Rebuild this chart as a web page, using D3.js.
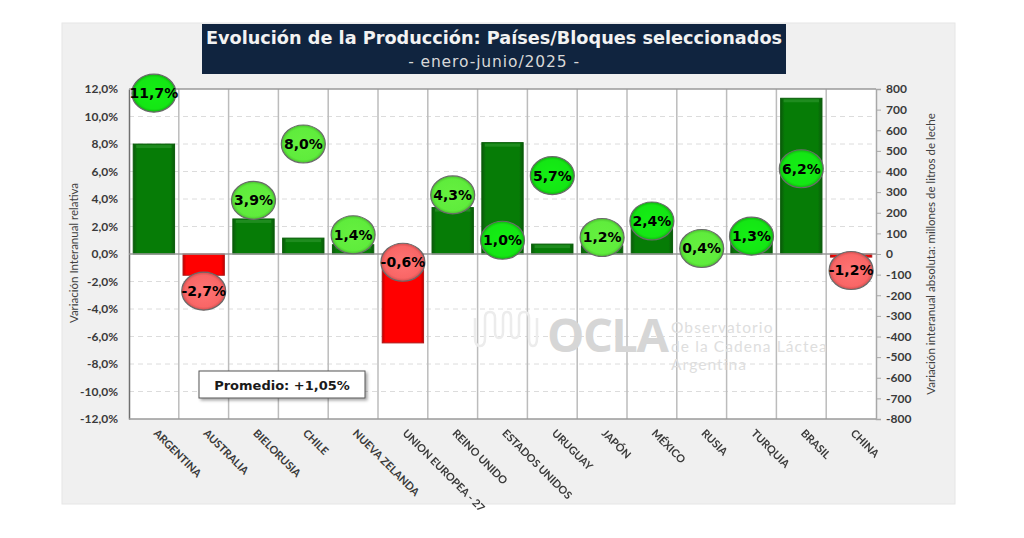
<!DOCTYPE html>
<html>
<head>
<meta charset="utf-8">
<script src="https://cdn.jsdelivr.net/npm/d3@7"></script>
<style>
  html, body { margin: 0; padding: 0; background: #fff; }
  svg { display: block; filter: blur(0.45px); }
  text { font-family: "DejaVu Sans", sans-serif; }
</style>
</head>
<body>
<div id="chart"></div>
<script>
// Datos
const paises = ["ARGENTINA", "AUSTRALIA", "BIELORUSIA", "CHILE", "NUEVA ZELANDA", "UNION EUROPEA - 27", "REINO UNIDO",
    "ESTADOS UNIDOS", "URUGUAY", "JAPÓN", "MÉXICO", "RUSIA", "TURQUIA", "BRASIL", "CHINA"];
const variacionAbsoluta = [533, -103, 170, 77, 45, -431, 225, 540, 48, 40, 135, 15, 62, 755, -15];
const variacionRelativa = [11.7, -2.7, 3.9, 8.0, 1.4, -0.6, 4.3, 1.0, 5.7, 1.2, 2.4, 0.4, 1.3, 6.2, -1.2];
const ticksRelativa = [-12, -10, -8, -6, -4, -2, 0, 2, 4, 6, 8, 10, 12];
const ticksAbsoluta = [-800, -700, -600, -500, -400, -300, -200, -100, 0, 100, 200, 300, 400, 500, 600, 700, 800];
// Paises con burbuja verde claro en el original
const burbujaClara = ["BIELORUSIA", "CHILE", "NUEVA ZELANDA", "REINO UNIDO", "JAPÓN", "RUSIA"];

const width = 1024, height = 538;
const margin = {top: 89, bottom: 119, left: 129, right: 148};
const innerW = width - margin.left - margin.right;
const innerH = height - margin.top - margin.bottom;

const root = d3.select("#chart").append("svg")
    .attr("width", width)
    .attr("height", height);

const defs = root.append("defs");

// Gradientes de las burbujas y biseles de las barras
function burbuja(id, centro, medio, borde) {
    const g = defs.append("radialGradient").attr("id", id)
        .attr("cx", "50%").attr("cy", "50%").attr("r", "52%");
    g.append("stop").attr("offset", "0%").attr("stop-color", centro);
    g.append("stop").attr("offset", "80%").attr("stop-color", medio);
    g.append("stop").attr("offset", "100%").attr("stop-color", borde);
}
burbuja("bubbleGreen", "#14f014", "#14e614", "#0fa80f");
burbuja("bubbleLight", "#66f040", "#5fec3c", "#46b82c");
burbuja("bubbleRed", "#ff7474", "#f96666", "#c84a4a");

const gradVerde = defs.append("linearGradient").attr("id", "barGreen");
gradVerde.append("stop").attr("offset", "0%").attr("stop-color", "#0b5a0b");
gradVerde.append("stop").attr("offset", "10%").attr("stop-color", "#067c06");
gradVerde.append("stop").attr("offset", "90%").attr("stop-color", "#067c06");
gradVerde.append("stop").attr("offset", "100%").attr("stop-color", "#0b5a0b");

const gradRojo = defs.append("linearGradient").attr("id", "barRed");
gradRojo.append("stop").attr("offset", "0%").attr("stop-color", "#c00000");
gradRojo.append("stop").attr("offset", "8%").attr("stop-color", "#ff0000");
gradRojo.append("stop").attr("offset", "92%").attr("stop-color", "#ff0000");
gradRojo.append("stop").attr("offset", "100%").attr("stop-color", "#c00000");

const sombra = defs.append("filter").attr("id", "shadow")
    .attr("x", "-10%").attr("y", "-20%").attr("width", "125%").attr("height", "150%");
sombra.append("feDropShadow").attr("dx", 2).attr("dy", 2).attr("stdDeviation", 1.5)
    .attr("flood-color", "#000").attr("flood-opacity", 0.35);

// Fondo
root.append("rect").attr("x", 62).attr("y", 23).attr("width", 893).attr("height", 481)
    .attr("fill", "#f0f0f0").attr("stroke", "#e6e6e6");

// Titulo
root.append("rect").attr("x", 202).attr("y", 24).attr("width", 584).attr("height", 50)
    .attr("fill", "#10243f");
root.append("text").attr("x", 494).attr("y", 44)
    .attr("text-anchor", "middle").attr("fill", "#f2f2f2")
    .style("font-size", "17.7px").style("font-weight", 700)
    .text("Evolución de la Producción: Países/Bloques seleccionados");
root.append("text").attr("x", 494).attr("y", 67)
    .attr("text-anchor", "middle").attr("fill", "#d8d8d8")
    .style("font-size", "15.5px").style("letter-spacing", "0.9px")
    .text("- enero-junio/2025 -");

const svg = root.append("g")
    .attr("transform", `translate(${margin.left},${margin.top})`);

// Escalas
const xScale = d3.scaleBand().domain(paises).range([0, innerW]).paddingInner(0.17).paddingOuter(0.085);
const xCat = d3.scaleBand().domain(paises).range([0, innerW]);
const yRel = d3.scaleLinear().domain([-12, 12]).range([innerH, 0]);
const yAbs = d3.scaleLinear().domain([-800, 800]).range([innerH, 0]);

svg.append("rect").attr("width", innerW).attr("height", innerH).attr("fill", "#fff");

// Marca de agua
root.append("path")
    .attr("d", "M475,318 V338 Q475,346 480,346 Q485,346 485,338 V318 Q485,312 490,312 Q495,312 495,318 V332 Q495,338 499,338 Q503,338 503,332 V318 Q503,312 507,312 Q511,312 511,318 V332 Q511,338 515,338 Q519,338 519,332 V318 Q519,312 524,312 Q529,312 529,318 V338 Q529,346 533,346 Q537,346 537,338 V318")
    .attr("stroke", "#ececec").attr("stroke-width", 2.5).attr("fill", "none");
root.append("text").attr("x", 547).attr("y", 352)
    .attr("fill", "#d6d6d6")
    .style("font-family", "'Open Sans', sans-serif")
    .style("font-size", "47px").style("font-weight", 700).style("letter-spacing", "-1.5px").text("OCLA");
root.selectAll(".aguaTxt").data(["Observatorio", "de la Cadena Láctea", "Argentina"]).enter().append("text")
    .attr("x", 671).attr("y", (d, i) => 333 + i * 18.5)
    .attr("fill", "#dedede")
    .style("font-family", "Lato, sans-serif")
    .style("font-size", "15.5px").style("letter-spacing", "1.1px").text(d => d);

// Grilla horizontal punteada
svg.selectAll(".hgrid").data(ticksRelativa.filter(d => d !== 0 && Math.abs(d) !== 12)).enter().append("line")
    .attr("x1", 0).attr("x2", innerW)
    .attr("y1", d => yRel(d)).attr("y2", d => yRel(d))
    .attr("stroke", "#dcdcdc").attr("stroke-dasharray", "5,4");

// Grilla vertical entre categorias
svg.selectAll(".vgrid").data(paises.slice(1)).enter().append("line")
    .attr("x1", d => xCat(d)).attr("x2", d => xCat(d))
    .attr("y1", 0).attr("y2", innerH)
    .attr("stroke", "#bcbcbc").attr("stroke-width", 1.5);

// Barras
const barras = svg.selectAll(".bar").data(variacionAbsoluta).enter().append("g");
barras.append("rect")
    .attr("x", (d, i) => xScale(paises[i]))
    .attr("width", xScale.bandwidth())
    .attr("y", d => Math.min(yAbs(d), yAbs(0)))
    .attr("height", d => Math.abs(yAbs(d) - yAbs(0)))
    .attr("fill", d => d >= 0 ? "url(#barGreen)" : "url(#barRed)")
    .attr("stroke", d => d >= 0 ? "#0a5c0a" : "#b01818");
// Brillo superior de la barra
barras.filter(d => d >= 0).append("rect")
    .attr("x", d => xScale(paises[variacionAbsoluta.indexOf(d)]) + 3)
    .attr("width", xScale.bandwidth() - 6)
    .attr("y", d => yAbs(d) + 1)
    .attr("height", d => Math.min(3, yAbs(0) - yAbs(d) - 1))
    .attr("fill", "#1f8c1f");

// Ejes
const axisLeft = svg.append("g")
    .call(d3.axisLeft(yRel).tickValues(ticksRelativa).tickSize(0).tickPadding(11)
        .tickFormat(d => d3.format(".1f")(d).replace(".", ",").replace("−", "-") + "%"));
const axisRight = svg.append("g").attr("transform", `translate(${innerW},0)`)
    .call(d3.axisRight(yAbs).tickValues(ticksAbsoluta).tickSize(5).tickPadding(5)
        .tickFormat(d => String(d)));
[axisLeft, axisRight].forEach(a => {
    a.selectAll("text").attr("fill", "#3a3a3a")
        .style("font-size", "12px").style("font-weight", 700).style("font-family", "Lato, sans-serif");
});
axisLeft.select(".domain").attr("stroke", "#707070").attr("stroke-width", 1.5);
axisRight.select(".domain").attr("stroke", "#a8a8a8").attr("stroke-width", 1.5);
axisRight.selectAll(".tick line").attr("stroke", "#a8a8a8");

// Linea del cero y borde superior / inferior
[yRel(12), yRel(0), yRel(-12)].forEach(y => {
    svg.append("line").attr("x1", 0).attr("x2", innerW).attr("y1", y).attr("y2", y)
        .attr("stroke", "#9a9a9a").attr("stroke-width", 1.5);
});

// Categorias rotadas
svg.selectAll(".catLabel").data(paises).enter().append("text")
    .attr("transform", d => `translate(${xCat(d) + xCat.bandwidth() / 2 - 1},${innerH + 15}) rotate(45)`)
    .attr("fill", "#3a3a3a")
    .style("font-size", "10.8px").style("font-weight", 700).style("font-family", "Lato, sans-serif")
    .text(d => d);

// Burbujas con el porcentaje
const burbujas = svg.selectAll(".bubble").data(variacionRelativa).enter().append("g")
    .attr("transform", (d, i) => `translate(${xCat(paises[i]) + xCat.bandwidth() / 2},${yRel(d)})`);
burbujas.append("ellipse")
    .attr("rx", 22).attr("ry", 19)
    .attr("fill", (d, i) => d < 0 ? "url(#bubbleRed)" : burbujaClara.includes(paises[i]) ? "url(#bubbleLight)" : "url(#bubbleGreen)")
    .attr("stroke", "#6a6a6a").attr("stroke-width", 1.2);
burbujas.append("text")
    .attr("text-anchor", "middle").attr("dy", "0.35em")
    .attr("fill", "#000")
    .style("font-size", "14px").style("font-weight", 700)
    .text(d => d3.format(".1f")(d).replace(".", ",").replace("−", "-") + "%");

// Recuadro del promedio
root.append("rect").attr("x", 199).attr("y", 371).attr("width", 166).attr("height", 27)
    .attr("fill", "#fff").attr("stroke", "#555").attr("filter", "url(#shadow)");
root.append("text").attr("x", 282).attr("y", 390).attr("text-anchor", "middle")
    .attr("fill", "#1a1a1a").style("font-size", "13px").style("font-weight", 700)
    .text("Promedio: +1,05%");

// Titulos de ejes
root.append("text").attr("transform", `translate(78,${margin.top + innerH / 2 - 1}) rotate(-90)`)
    .attr("text-anchor", "middle").attr("fill", "#404040")
    .style("font-size", "11.5px").style("font-family", "Lato, sans-serif").text("Variación Interanual relativa");
root.append("text").attr("transform", `translate(935,254) rotate(-90)`)
    .attr("text-anchor", "middle").attr("fill", "#404040")
    .style("font-size", "11.5px").style("font-family", "Lato, sans-serif")
    .text("Variación interanual absoluta: millones de litros de leche");
</script>
</body>
</html>
